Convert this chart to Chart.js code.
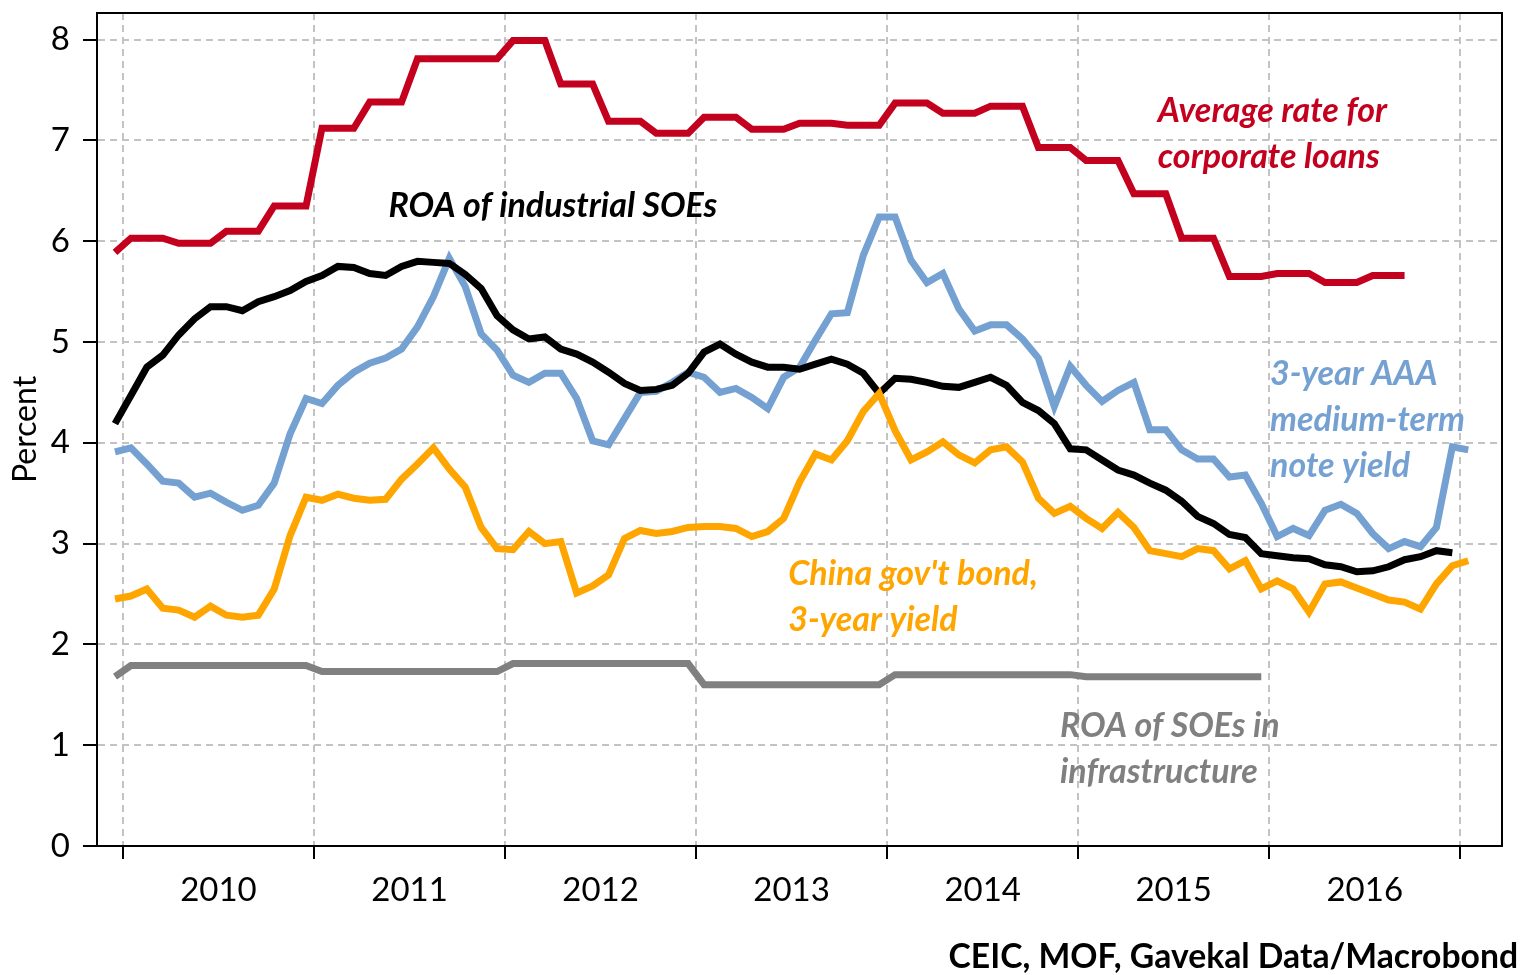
<!DOCTYPE html>
<html lang="en">
<head>
<meta charset="UTF-8">
<title>Corporate loan rates vs SOE returns</title>
<script src="https://cdn.jsdelivr.net/npm/chart.js@4.4.0/dist/chart.umd.min.js"></script>
<style>
  body { margin: 0; background: #fff; }
  canvas { display: block; }
</style>
</head>
<body>
<canvas id="chart" width="1521" height="975"></canvas>
<script>
// monthly series, index 0 = Dec 2009, one step per month
const years = ['2010', '2011', '2012', '2013', '2014', '2015', '2016'];
const yTicks = [0, 1, 2, 3, 4, 5, 6, 7, 8];

const corpLoanRate = [
  5.89, 6.03, 6.03, 6.03, 5.98, 5.98, 5.98, 6.10, 6.10, 6.10, 6.35, 6.35, 6.35,
  7.12, 7.12, 7.12, 7.38, 7.38, 7.38, 7.81, 7.81, 7.81, 7.81, 7.81, 7.81,
  7.99, 7.99, 7.99, 7.56, 7.56, 7.56, 7.19, 7.19, 7.19, 7.07, 7.07, 7.07,
  7.23, 7.23, 7.23, 7.11, 7.11, 7.11, 7.17, 7.17, 7.17, 7.15, 7.15, 7.15,
  7.37, 7.37, 7.37, 7.27, 7.27, 7.27, 7.34, 7.34, 7.34, 6.93, 6.93, 6.93,
  6.80, 6.80, 6.80, 6.47, 6.47, 6.47, 6.03, 6.03, 6.03, 5.65, 5.65, 5.65,
  5.68, 5.68, 5.68, 5.59, 5.59, 5.59, 5.66, 5.66, 5.66
];

const roaIndustrial = [
  4.19, 4.47, 4.75, 4.87, 5.07, 5.23, 5.35, 5.35, 5.31, 5.40, 5.45, 5.51, 5.60,
  5.66, 5.75, 5.74, 5.68, 5.66, 5.75, 5.80, 5.79, 5.78, 5.67, 5.53, 5.26,
  5.12, 5.03, 5.05, 4.93, 4.88, 4.80, 4.70, 4.59, 4.52, 4.53, 4.57, 4.69,
  4.90, 4.98, 4.88, 4.80, 4.75, 4.75, 4.73, 4.78, 4.83, 4.78, 4.69, 4.49,
  4.64, 4.63, 4.60, 4.56, 4.55, 4.60, 4.65, 4.57, 4.40, 4.32, 4.19, 3.94,
  3.93, 3.83, 3.73, 3.68, 3.60, 3.53, 3.42, 3.27, 3.20, 3.09, 3.06, 2.90,
  2.88, 2.86, 2.85, 2.79, 2.77, 2.72, 2.73, 2.77, 2.84, 2.87, 2.93, 2.91
];

const aaaNoteYield = [
  3.91, 3.95, 3.79, 3.62, 3.60, 3.46, 3.50, 3.41, 3.33, 3.38, 3.60, 4.09, 4.44,
  4.39, 4.57, 4.70, 4.79, 4.84, 4.93, 5.15, 5.45, 5.83, 5.55, 5.08, 4.92,
  4.67, 4.60, 4.69, 4.69, 4.44, 4.02, 3.98, 4.24, 4.50, 4.51, 4.60, 4.70,
  4.65, 4.50, 4.54, 4.45, 4.34, 4.65, 4.75, 5.02, 5.28, 5.29, 5.86, 6.24,
  6.24, 5.81, 5.59, 5.68, 5.33, 5.11, 5.17, 5.17, 5.03, 4.84, 4.36, 4.76,
  4.57, 4.41, 4.52, 4.60, 4.13, 4.13, 3.93, 3.84, 3.84, 3.66, 3.68, 3.40,
  3.07, 3.15, 3.08, 3.33, 3.39, 3.30, 3.10, 2.95, 3.02, 2.97, 3.16, 3.96, 3.93
];

const govBond3y = [
  2.45, 2.48, 2.55, 2.36, 2.34, 2.27, 2.38, 2.29, 2.27, 2.29, 2.55, 3.08, 3.46,
  3.43, 3.49, 3.45, 3.43, 3.44, 3.64, 3.79, 3.95, 3.74, 3.56, 3.16, 2.95,
  2.94, 3.12, 3.00, 3.02, 2.51, 2.58, 2.69, 3.05, 3.13, 3.10, 3.12, 3.16,
  3.17, 3.17, 3.15, 3.07, 3.12, 3.25, 3.61, 3.89, 3.83, 4.02, 4.31, 4.49,
  4.12, 3.83, 3.91, 4.01, 3.88, 3.80, 3.93, 3.96, 3.81, 3.45, 3.30, 3.37,
  3.25, 3.15, 3.31, 3.16, 2.93, 2.90, 2.87, 2.95, 2.93, 2.75, 2.83, 2.55,
  2.63, 2.55, 2.32, 2.60, 2.62, 2.56, 2.50, 2.44, 2.42, 2.35, 2.60, 2.78, 2.83
];

const roaInfra = [
  1.68, 1.79, 1.79, 1.79, 1.79, 1.79, 1.79, 1.79, 1.79, 1.79, 1.79, 1.79, 1.79,
  1.73, 1.73, 1.73, 1.73, 1.73, 1.73, 1.73, 1.73, 1.73, 1.73, 1.73, 1.73,
  1.81, 1.81, 1.81, 1.81, 1.81, 1.81, 1.81, 1.81, 1.81, 1.81, 1.81, 1.81,
  1.60, 1.60, 1.60, 1.60, 1.60, 1.60, 1.60, 1.60, 1.60, 1.60, 1.60, 1.60,
  1.70, 1.70, 1.70, 1.70, 1.70, 1.70, 1.70, 1.70, 1.70, 1.70, 1.70, 1.70,
  1.68, 1.68, 1.68, 1.68, 1.68, 1.68, 1.68, 1.68, 1.68, 1.68, 1.68, 1.68
];

const RED = '#c4001f', BLUE = '#74a1d2', ORANGE = '#ffa500', GREY = '#808080';
const GRID = '#c3c3c3';
const FONT = 'Lato';

// year boundaries sit between Dec and Jan points, year names in the middle
const edgeTicks = years.map((y, i) => 0.5 + 12 * i).concat([0.5 + 12 * years.length]);
const midTicks = years.map((y, i) => 6.5 + 12 * i);
const isEdge = v => edgeTicks.includes(v);

const toPoints = arr => arr.map((v, i) => ({ x: i, y: v }));

// in-chart labels, anchored in data units (left edge, first baseline)
const notes = [
  { lines: ['Average rate for', 'corporate loans'], color: RED, x: 65.5, y: 7.18 },
  { lines: ['ROA of industrial SOEs'], color: '#000', x: 17.18, y: 6.24 },
  { lines: ['3-year AAA', 'medium-term', 'note yield'], color: BLUE, x: 72.55, y: 4.57 },
  { lines: ["China gov't bond,", '3-year yield'], color: ORANGE, x: 42.29, y: 2.59 },
  { lines: ['ROA of SOEs in', 'infrastructure'], color: GREY, x: 59.36, y: 1.08 }
];

const notesPlugin = {
  id: 'notes',
  afterDatasetsDraw(chart) {
    const { ctx, scales: { x, y } } = chart;
    ctx.save();
    ctx.font = 'italic bold 34px ' + FONT;
    ctx.textAlign = 'left';
    ctx.textBaseline = 'alphabetic';
    notes.forEach(n => {
      ctx.fillStyle = n.color;
      const px = x.getPixelForValue(n.x);
      const py = y.getPixelForValue(n.y);
      n.lines.forEach((t, i) => ctx.fillText(t, px, py + i * 45.6));
    });
    ctx.restore();
  }
};

const framePlugin = {
  id: 'frame',
  afterDraw(chart) {
    const { ctx, chartArea: a } = chart;
    ctx.save();
    ctx.strokeStyle = '#000';
    ctx.lineWidth = 2;
    ctx.strokeRect(a.left, a.top, a.right - a.left, a.bottom - a.top);

    // source line, bottom right
    const src = 'CEIC, MOF, Gavekal Data/Macrobond';
    ctx.font = 'bold 30px ' + FONT;
    const size = 30 * 570 / ctx.measureText(src).width;
    ctx.font = 'bold ' + size.toFixed(1) + 'px ' + FONT;
    ctx.fillStyle = '#000';
    ctx.textAlign = 'right';
    ctx.textBaseline = 'alphabetic';
    ctx.fillText(src, 1518, 968);
    ctx.restore();
  }
};

const line = (data, color) => ({
  data: toPoints(data),
  borderColor: color,
  borderWidth: 7,
  pointRadius: 0,
  tension: 0,
  fill: false
});

new Chart(document.getElementById('chart'), {
  type: 'line',
  data: {
    datasets: [
      line(govBond3y, ORANGE),
      line(roaIndustrial, '#000'),
      line(aaaNoteYield, BLUE),
      line(corpLoanRate, RED),
      line(roaInfra, GREY)
    ]
  },
  options: {
    responsive: false,
    animation: false,
    devicePixelRatio: 1,
    layout: { padding: { top: 13, right: 19, left: 0, bottom: 0 } },
    plugins: { legend: { display: false }, tooltip: { enabled: false } },
    scales: {
      x: {
        type: 'linear',
        min: -1.13,
        max: 87.12,
        afterBuildTicks: s => { s.ticks = edgeTicks.concat(midTicks).sort((a, b) => a - b).map(v => ({ value: v })); },
        afterFit: s => { s.height = 129; s.paddingLeft = 0; s.paddingRight = 0; },
        ticks: {
          autoSkip: false,
          maxRotation: 0,
          minRotation: 0,
          padding: 12,
          color: '#000',
          font: { family: FONT, size: 33 },
          callback: v => {
            const j = midTicks.indexOf(v);
            return j >= 0 ? years[j] : '';
          }
        },
        grid: {
          color: c => isEdge(c.tick.value) ? GRID : 'rgba(0,0,0,0)',
          lineWidth: 2,
          tickLength: 13,
          tickWidth: 2,
          tickColor: c => isEdge(c.tick.value) ? '#000' : 'rgba(0,0,0,0)'
        },
        border: { color: '#000', width: 2, dash: [7, 5] }
      },
      y: {
        min: 0,
        max: 8.264,
        afterBuildTicks: s => { s.ticks = yTicks.map(v => ({ value: v })); },
        afterFit: s => { s.width = 97; s.paddingTop = 0; s.paddingBottom = 0; },
        ticks: { padding: 13, color: '#000', font: { family: FONT, size: 33 } },
        grid: { color: GRID, lineWidth: 2, tickLength: 14, tickWidth: 2, tickColor: '#000' },
        border: { color: '#000', width: 2, dash: [7, 5] },
        title: {
          display: true,
          text: 'Percent',
          color: '#000',
          font: { family: FONT, size: 32 },
          padding: { top: 6, bottom: 0 }
        }
      }
    }
  },
  plugins: [notesPlugin, framePlugin]
});
</script>
</body>
</html>
